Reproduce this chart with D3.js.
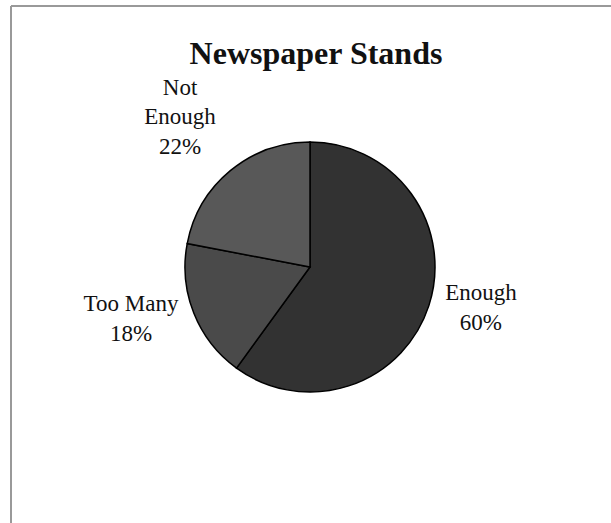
<!DOCTYPE html>
<html>
<head>
<meta charset="utf-8">
<script src="https://cdn.jsdelivr.net/npm/d3@7"></script>
<style>
  body { margin: 0; background: #fff; }
  text { font-family: "Liberation Serif", "Times New Roman", serif; fill: #111; }
</style>
</head>
<body>
<div id="chart"></div>
<script>
// slice data, clockwise from 12 o'clock
const categories = ["Enough", "Too Many", "Not Enough"];
const values = [60, 18, 22];
const labelLines = [["Enough", "60%"], ["Too Many", "18%"], ["Not", "Enough", "22%"]];
const fills = ["#323232", "#4a4a4a", "#585858"];

const width = 611, height = 523;
const cx = 310, cy = 267, radius = 125;

const svg = d3.select("#chart").append("svg")
    .attr("width", width)
    .attr("height", height);

// frame (top + left edge only, cropped scan)
svg.append("line").attr("x1", 11).attr("y1", 6).attr("x2", width).attr("y2", 6)
    .attr("stroke", "#999").attr("stroke-width", 2);
svg.append("line").attr("x1", 11).attr("y1", 6).attr("x2", 11).attr("y2", height)
    .attr("stroke", "#999").attr("stroke-width", 2);

svg.append("text")
    .attr("x", 316).attr("y", 64)
    .attr("text-anchor", "middle")
    .style("font-size", "32px")
    .style("font-weight", "bold")
    .text("Newspaper Stands");

const pie = d3.pie().sort(null).value(d => d)(values);
const arc = d3.arc().innerRadius(0).outerRadius(radius);
const labelArc = d3.arc().innerRadius(185).outerRadius(185);

const g = svg.append("g").attr("transform", `translate(${cx},${cy})`);

g.selectAll("path")
    .data(pie)
    .join("path")
    .attr("d", arc)
    .attr("fill", (d, i) => fills[i])
    .attr("stroke", "#000")
    .attr("stroke-width", 1.5);

// labels outside the pie, centred on the slice direction
const lineH = 29.5;
g.selectAll("text.lbl")
    .data(pie)
    .join("text")
    .attr("class", "lbl")
    .attr("text-anchor", "middle")
    .style("font-size", "23px")
    .each(function (d, i) {
        let [x, y] = labelArc.centroid(d);
        const lines = labelLines[i];
        if (x > 0) x -= 5;
        else if (y > 0) x -= 7;
        else x -= 12;
        const top = y - 6 - (lines.length - 1) * lineH / 2 + (y > 0 ? -3 : 6);
        d3.select(this).selectAll("tspan")
            .data(lines)
            .join("tspan")
            .attr("x", x)
            .attr("y", (t, k) => top + k * lineH)
            .text(t => t);
    });
</script>
</body>
</html>
